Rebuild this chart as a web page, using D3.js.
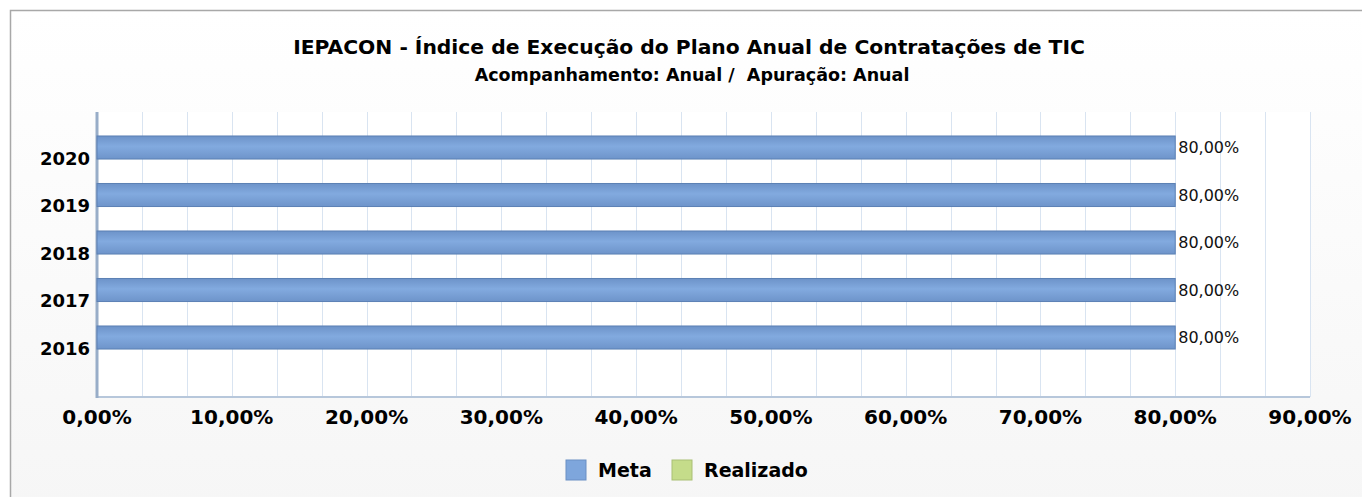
<!DOCTYPE html>
<html>
<head>
  <meta charset="utf-8">
  <title>IEPACON</title>
  <style type="text/css">
    body { margin: 0; background: #fff; }
    text { font-family: "DejaVu Sans", Verdana, sans-serif; fill: #000; }
    .title { font-size: 20.3px; font-weight: bold; }
    .subtitle { font-size: 17.5px; font-weight: bold; white-space: pre; }
    .xlab { font-size: 20px; font-weight: bold; }
    .ylab { font-size: 18px; font-weight: bold; }
    .val { font-size: 16px; fill: #111; }
    .leg { font-size: 19px; font-weight: bold; }
  </style>
</head>
<body>
<script src="https://cdnjs.cloudflare.com/ajax/libs/d3/7.8.5/d3.min.js"></script>
<script>
// data
var years = ['2020','2019','2018','2017','2016'];
var meta = [0.80, 0.80, 0.80, 0.80, 0.80];
var realizado = [null, null, null, null, null];
var xTicks = [0, 0.1, 0.2, 0.3, 0.4, 0.5, 0.6, 0.7, 0.8, 0.9];
var seriesNames = ['Meta', 'Realizado'];
var seriesColors = ['#7ea6dc', '#c5dc8a'];

var W = 1362, H = 497;
var plot = {left: 97, right: 1310, top: 112, bottom: 397};

var svg = d3.select('body').append('svg')
  .attr('width', W).attr('height', H);

var defs = svg.append('defs');
var bg = defs.append('linearGradient').attr('id', 'bg')
  .attr('x1', 0).attr('y1', 0).attr('x2', 0).attr('y2', 1);
bg.append('stop').attr('offset', '0%').attr('stop-color', '#ffffff');
bg.append('stop').attr('offset', '100%').attr('stop-color', '#f6f6f6');

var barG = defs.append('linearGradient').attr('id', 'barG')
  .attr('x1', 0).attr('y1', 0).attr('x2', 0).attr('y2', 1);
barG.append('stop').attr('offset', '0%').attr('stop-color', '#6d93c9');
barG.append('stop').attr('offset', '45%').attr('stop-color', '#82aadf');
barG.append('stop').attr('offset', '100%').attr('stop-color', '#6e94ca');

// chart box
svg.append('rect')
  .attr('x', 10.5).attr('y', 10.5).attr('width', W).attr('height', H)
  .attr('fill', 'url(#bg)').attr('stroke', '#a8a8a8').attr('stroke-width', 1.5);

svg.append('rect')
  .attr('x', plot.left).attr('y', plot.top)
  .attr('width', plot.right - plot.left).attr('height', plot.bottom - plot.top)
  .attr('fill', '#ffffff');

// scales
var x = d3.scaleLinear().domain([0, 0.9]).range([plot.left, plot.right]);
var bandH = (plot.bottom - plot.top) / (years.length + 1);
var y0 = d3.scaleBand().domain(years)
  .range([plot.top, plot.top + bandH * years.length]).padding(0);
var y1 = d3.scaleBand().domain(['Realizado', 'Meta'])
  .range([0, y0.bandwidth()]).paddingInner(0.02).paddingOuter(0.02);

// grid lines (3 per major step)
var grid = d3.range(0, 28).map(function(i){ return i * 0.9 / 27; });
svg.append('g').selectAll('line').data(grid).enter().append('line')
  .attr('x1', function(d){ return Math.round(x(d)) + 0.5; })
  .attr('x2', function(d){ return Math.round(x(d)) + 0.5; })
  .attr('y1', plot.top).attr('y2', plot.bottom)
  .attr('stroke', '#d9e4f1').attr('stroke-width', 1);

// bottom axis line
svg.append('line')
  .attr('x1', plot.left).attr('x2', plot.right)
  .attr('y1', plot.bottom).attr('y2', plot.bottom)
  .attr('stroke', '#b7c7db').attr('stroke-width', 2);

// left axis line
svg.append('line')
  .attr('x1', plot.left).attr('x2', plot.left)
  .attr('y1', plot.top).attr('y2', plot.bottom + 1)
  .attr('stroke', '#98adc8').attr('stroke-width', 3);

// bars
var fmt = function(v){ return d3.format('.2f')(v * 100).replace('.', ',') + '%'; };
var rows = years.map(function(yr, i){ return {year: yr, meta: meta[i], realizado: realizado[i]}; });

svg.append('g').selectAll('rect').data(rows).enter().append('rect')
  .attr('x', x(0))
  .attr('y', function(d){ return y0(d.year) + y1('Meta'); })
  .attr('width', function(d){ return x(d.meta) - x(0); })
  .attr('height', y1.bandwidth())
  .attr('fill', 'url(#barG)')
  .attr('stroke', '#5c80b4').attr('stroke-width', 1);

svg.append('g').selectAll('rect').data(rows.filter(function(d){ return d.realizado != null; }))
  .enter().append('rect')
  .attr('x', x(0))
  .attr('y', function(d){ return y0(d.year) + y1('Realizado'); })
  .attr('width', function(d){ return x(d.realizado) - x(0); })
  .attr('height', y1.bandwidth())
  .attr('fill', seriesColors[1]);

// value labels
svg.append('g').selectAll('text').data(rows).enter().append('text')
  .attr('class', 'val')
  .attr('x', function(d){ return x(d.meta) + 3; })
  .attr('y', function(d){ return y0(d.year) + y1('Meta') + y1.bandwidth() / 2; })
  .attr('dy', '0.35em')
  .text(function(d){ return fmt(d.meta); });

// year labels
svg.append('g').selectAll('text').data(years).enter().append('text')
  .attr('class', 'ylab')
  .attr('x', 90)
  .attr('y', function(d){ return y0(d) + y0.bandwidth() - 1; })
  .attr('dy', '0.35em')
  .attr('text-anchor', 'end')
  .text(function(d){ return d; });

// x tick labels
svg.append('g').selectAll('text').data(xTicks).enter().append('text')
  .attr('class', 'xlab')
  .attr('x', function(d){ return x(d); })
  .attr('y', 424)
  .attr('text-anchor', 'middle')
  .text(fmt);

// titles
svg.append('text').attr('class', 'title')
  .attr('x', 689).attr('y', 54).attr('text-anchor', 'middle')
  .text('IEPACON - Índice de Execução do Plano Anual de Contratações de TIC');
svg.append('text').attr('class', 'subtitle')
  .attr('x', 692).attr('y', 81).attr('text-anchor', 'middle')
  .text('Acompanhamento: Anual /  Apuração: Anual');

// legend
var legX = [566, 672];
var leg = svg.append('g').selectAll('g').data(seriesNames).enter().append('g')
  .attr('transform', function(d, i){ return 'translate(' + legX[i] + ',460)'; });
leg.append('rect')
  .attr('width', 20).attr('height', 20)
  .attr('fill', function(d, i){ return seriesColors[i]; })
  .attr('stroke', function(d, i){ return i ? '#a9bf74' : '#6a8fc4'; });
leg.append('text').attr('class', 'leg')
  .attr('x', 32).attr('y', 10).attr('dy', '0.35em')
  .text(function(d){ return d; });
</script>
</body>
</html>
